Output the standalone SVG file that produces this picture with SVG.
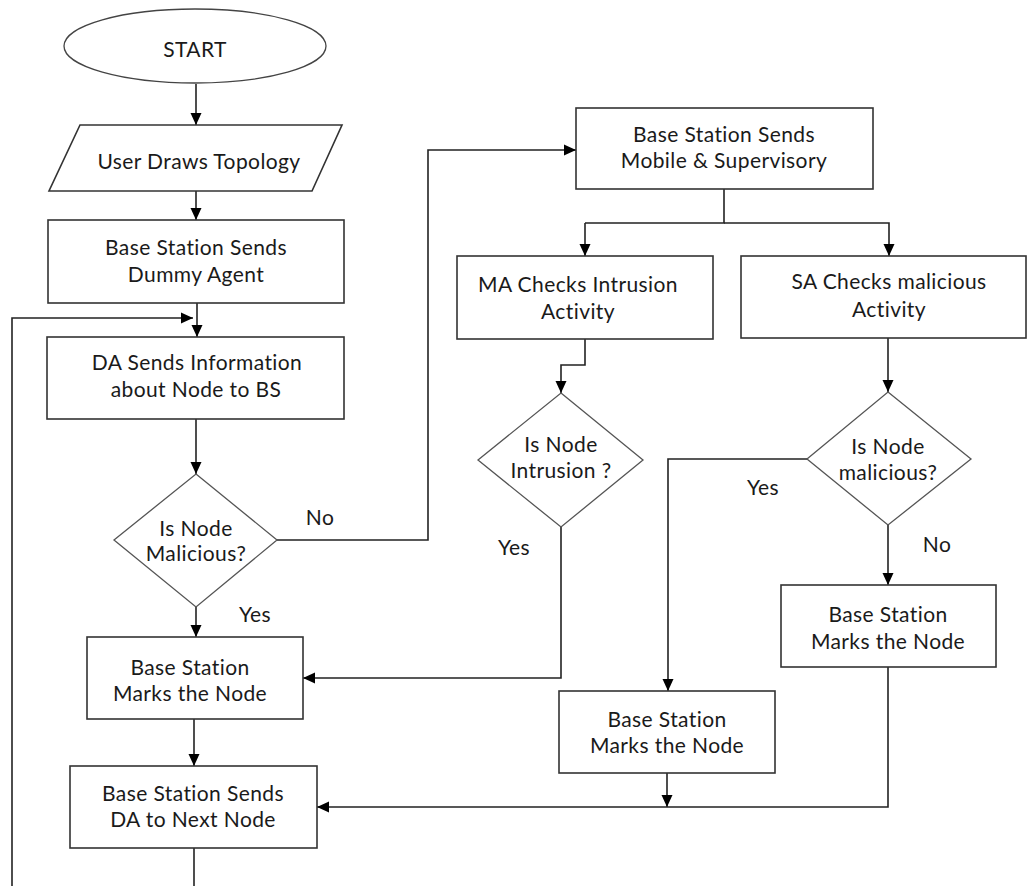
<svg xmlns="http://www.w3.org/2000/svg" width="1027" height="886" viewBox="0 0 1027 886">
<defs>
<marker id="ah" markerUnits="userSpaceOnUse" markerWidth="12" markerHeight="12" viewBox="0 0 12 12" refX="12" refY="6" orient="auto">
<path d="M0,0.5 L12,6 L0,11.5 Z" fill="#000"/>
</marker>
<style>
.box{fill:#fff;stroke:#333;stroke-width:1.6}
.dia{fill:#fff;stroke:#555;stroke-width:1.3}
.ln{fill:none;stroke:#222;stroke-width:1.6}
.arr{fill:none;stroke:#222;stroke-width:1.6;marker-end:url(#ah)}
text{font-family:Lato,"Liberation Sans",sans-serif;font-size:21px;letter-spacing:0.4px;fill:#1a1a1a;text-anchor:middle;dominant-baseline:central}
</style>
</defs>
<rect width="1027" height="886" fill="#fff"/>
<g id="connectors">
<path class="arr" d="M196,84 V125"/>
<path class="arr" d="M196,191 V220"/>
<path class="arr" d="M197,303 V337"/>
<path class="arr" d="M12,886 V318 H193"/>
<path class="arr" d="M196,419 V474"/>
<path class="arr" d="M277,540 H428 V150 H576"/>
<path class="arr" d="M196,607 V637"/>
<path class="arr" d="M194,719 V766"/>
<path class="ln" d="M194,848 V886"/>
<path class="ln" d="M724,189 V223 H585"/>
<path class="arr" d="M585,223 V256"/>
<path class="arr" d="M724,223 H889 V256"/>
<path class="arr" d="M585,339 V365 H561 V393"/>
<path class="arr" d="M561,527 V678 H303"/>
<path class="arr" d="M888,338 V392"/>
<path class="arr" d="M807,459 H668 V691"/>
<path class="arr" d="M888,525 V585"/>
<path class="arr" d="M667,773 V807"/>
<path class="arr" d="M888,667 V807 H317"/>
</g>
<g id="labels">
<text x="320" y="516">No</text>
<text x="255" y="613">Yes</text>
<text x="514" y="546">Yes</text>
<text x="763" y="486">Yes</text>
<text x="937" y="543">No</text>
</g>
<g id="start">
<ellipse cx="195" cy="46" rx="131" ry="37" fill="#fff" stroke="#444" stroke-width="1.3"/>
<text x="195" y="48">START</text>
</g>
<g id="topology">
<polygon class="box" points="80,125 342,125 312,191 49,191"/>
<text x="199" y="160">User Draws Topology</text>
</g>
<g id="dummy">
<rect class="box" x="48" y="220" width="296" height="83"/>
<text x="196" y="246">Base Station Sends</text>
<text x="196" y="273">Dummy Agent</text>
</g>
<g id="da-info">
<rect class="box" x="47" y="337" width="297" height="82"/>
<text x="197" y="361">DA Sends Information</text>
<text x="196" y="388">about Node to BS</text>
</g>
<g id="is-malicious">
<polygon class="dia" points="196,474 277,540 196,607 114,540"/>
<text x="196" y="527">Is Node</text>
<text x="196" y="552">Malicious?</text>
</g>
<g id="marks-left">
<rect class="box" x="87" y="637" width="216" height="82"/>
<text x="190" y="666">Base Station</text>
<text x="190" y="692">Marks the Node</text>
</g>
<g id="send-next">
<rect class="box" x="70" y="766" width="247" height="82"/>
<text x="193" y="792">Base Station Sends</text>
<text x="193" y="818">DA to Next Node</text>
</g>
<g id="mobile-supervisory">
<rect class="box" x="576" y="108" width="297" height="81"/>
<text x="724" y="133">Base Station Sends</text>
<text x="724" y="159">Mobile &amp; Supervisory</text>
</g>
<g id="ma-check">
<rect class="box" x="457" y="256" width="256" height="83"/>
<text x="578" y="283">MA Checks Intrusion</text>
<text x="578" y="310">Activity</text>
</g>
<g id="sa-check">
<rect class="box" x="741" y="256" width="285" height="82"/>
<text x="889" y="280">SA Checks malicious</text>
<text x="889" y="308">Activity</text>
</g>
<g id="is-intrusion">
<polygon class="dia" points="561,393 643,460 561,527 478,460"/>
<text x="561" y="443">Is Node</text>
<text x="561" y="469">Intrusion ?</text>
</g>
<g id="is-malicious-sa">
<polygon class="dia" points="888,392 971,459 888,525 807,459"/>
<text x="888" y="445">Is Node</text>
<text x="888" y="471">malicious?</text>
</g>
<g id="marks-right">
<rect class="box" x="781" y="585" width="215" height="82"/>
<text x="888" y="613">Base Station</text>
<text x="888" y="640">Marks the Node</text>
</g>
<g id="marks-middle">
<rect class="box" x="559" y="691" width="216" height="82"/>
<text x="667" y="718">Base Station</text>
<text x="667" y="744">Marks the Node</text>
</g>
</svg>
